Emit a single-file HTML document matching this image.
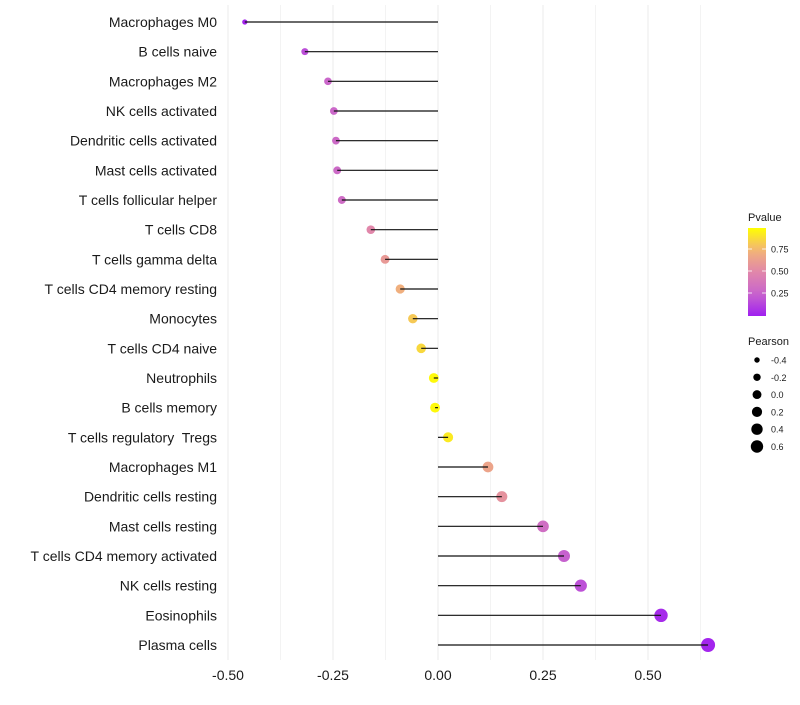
<!DOCTYPE html>
<html><head><meta charset="utf-8"><style>
body{margin:0;background:#fff;font-family:"Liberation Sans",sans-serif}
text{white-space:pre}
</style></head><body>
<svg id="chart" width="800" height="700" xmlns="http://www.w3.org/2000/svg"></svg>
<script>
const categories=["Macrophages M0","B cells naive","Macrophages M2","NK cells activated","Dendritic cells activated","Mast cells activated","T cells follicular helper","T cells CD8","T cells gamma delta","T cells CD4 memory resting","Monocytes","T cells CD4 naive","Neutrophils","B cells memory","T cells regulatory  Tregs","Macrophages M1","Dendritic cells resting","Mast cells resting","T cells CD4 memory activated","NK cells resting","Eosinophils","Plasma cells"];
const pearson=[-0.46,-0.317,-0.262,-0.248,-0.243,-0.240,-0.229,-0.160,-0.126,-0.090,-0.060,-0.040,-0.010,-0.007,0.024,0.119,0.152,0.250,0.300,0.340,0.531,0.643];
const pvalues=[0.02,0.17,0.27,0.28,0.29,0.29,0.31,0.50,0.60,0.72,0.82,0.87,0.98,0.98,0.93,0.66,0.56,0.32,0.24,0.18,0.04,0.02];
const xTicks=[-0.5,-0.25,0,0.25,0.5];
const xTickLabels=["-0.50","-0.25","0.00","0.25","0.50"];
const legendSizes=[-0.4,-0.2,0.0,0.2,0.4,0.6];
const legendSizeLabels=["-0.4","-0.2","0.0","0.2","0.4","0.6"];
const pTicks=[0.25,0.5,0.75];
const pTickLabels=["0.25","0.50","0.75"];

const NS="http://www.w3.org/2000/svg";
const svg=document.getElementById('chart');
function mk(tag,attrs,parent){const e=document.createElementNS(NS,tag);for(const k in attrs)e.setAttribute(k,attrs[k]);(parent||svg).appendChild(e);return e;}
const x=v=>438+v*420;
const y=i=>22+i*((645-22)/21);
function rad(v){return Math.sqrt(Math.max(2.25,24.5+38.2*v));}
function lerp(a,b,t){return a.map((c,i)=>Math.round(c+(b[i]-c)*t));}
function col(p){const s=[[160,32,240],[200,100,205],[225,135,170],[242,180,120],[255,255,0]];
 const q=Math.min(1,Math.max(0,p))*4;const i=Math.min(3,Math.floor(q));const c=lerp(s[i],s[i+1],q-i);return `rgb(${c[0]},${c[1]},${c[2]})`;}

for(let v=-0.5;v<=0.626;v+=0.125){
 const g=mk('line',{x1:x(v),x2:x(v),y1:5,y2:660,stroke:'#ebebeb','stroke-width':Math.abs((v*4)%1)<0.01?1:0.6});
 
 
}
categories.forEach((c,i)=>{
 const t=mk('text',{x:217,y:y(i)+5,'text-anchor':'end','font-size':14,fill:'#1a1a1a'});t.textContent=c;
 
 
 const m=mk('circle',{cx:x(pearson[i]),cy:y(i),r:rad(pearson[i]),fill:col(pvalues[i])});
 
 
 const l=mk('line',{x1:x(0),x2:x(pearson[i]),y1:y(i),y2:y(i),stroke:'#111','stroke-width':1.2});
 
 
});
xTicks.forEach((v,i)=>{
 const t=mk('text',{x:x(v),y:680,'text-anchor':'middle','font-size':14,fill:'#1a1a1a'});t.textContent=xTickLabels[i];
 
 
});
const lt=mk('text',{x:748,y:221,'font-size':11,fill:'#1a1a1a'});lt.textContent='Pvalue';


const defs=mk('defs',{});const gr=mk('linearGradient',{id:'pg',x1:0,y1:1,x2:0,y2:0},defs);
for(let k=0;k<=10;k++)mk('stop',{offset:k/10,'stop-color':col(k/10)},gr);
const bar=mk('rect',{x:748,y:228,width:18,height:88,fill:'url(#pg)'});


pTicks.forEach((p,i)=>{
 const yy=315-p*88;
 mk('line',{x1:748,x2:752,y1:yy,y2:yy,stroke:'#fff','stroke-width':0.8});
 mk('line',{x1:762,x2:766,y1:yy,y2:yy,stroke:'#fff','stroke-width':0.8});
 const t=mk('text',{x:771,y:yy+3.5,'font-size':9,fill:'#1a1a1a'});t.textContent=pTickLabels[i];
 
 
});
const st=mk('text',{x:748,y:345,'font-size':11,fill:'#1a1a1a'});st.textContent='Pearson';


legendSizes.forEach((v,i)=>{
 const yy=360+i*17.3;
 const c=mk('circle',{cx:757,cy:yy,r:Math.max(2.5,Math.sqrt(Math.max(4,24.5+38.2*v))*0.9),fill:'#000'});
 
 
 const t=mk('text',{x:771,y:yy+3.5,'font-size':9,fill:'#1a1a1a'});t.textContent=legendSizeLabels[i];
 
 
});
</script>
</body></html>
